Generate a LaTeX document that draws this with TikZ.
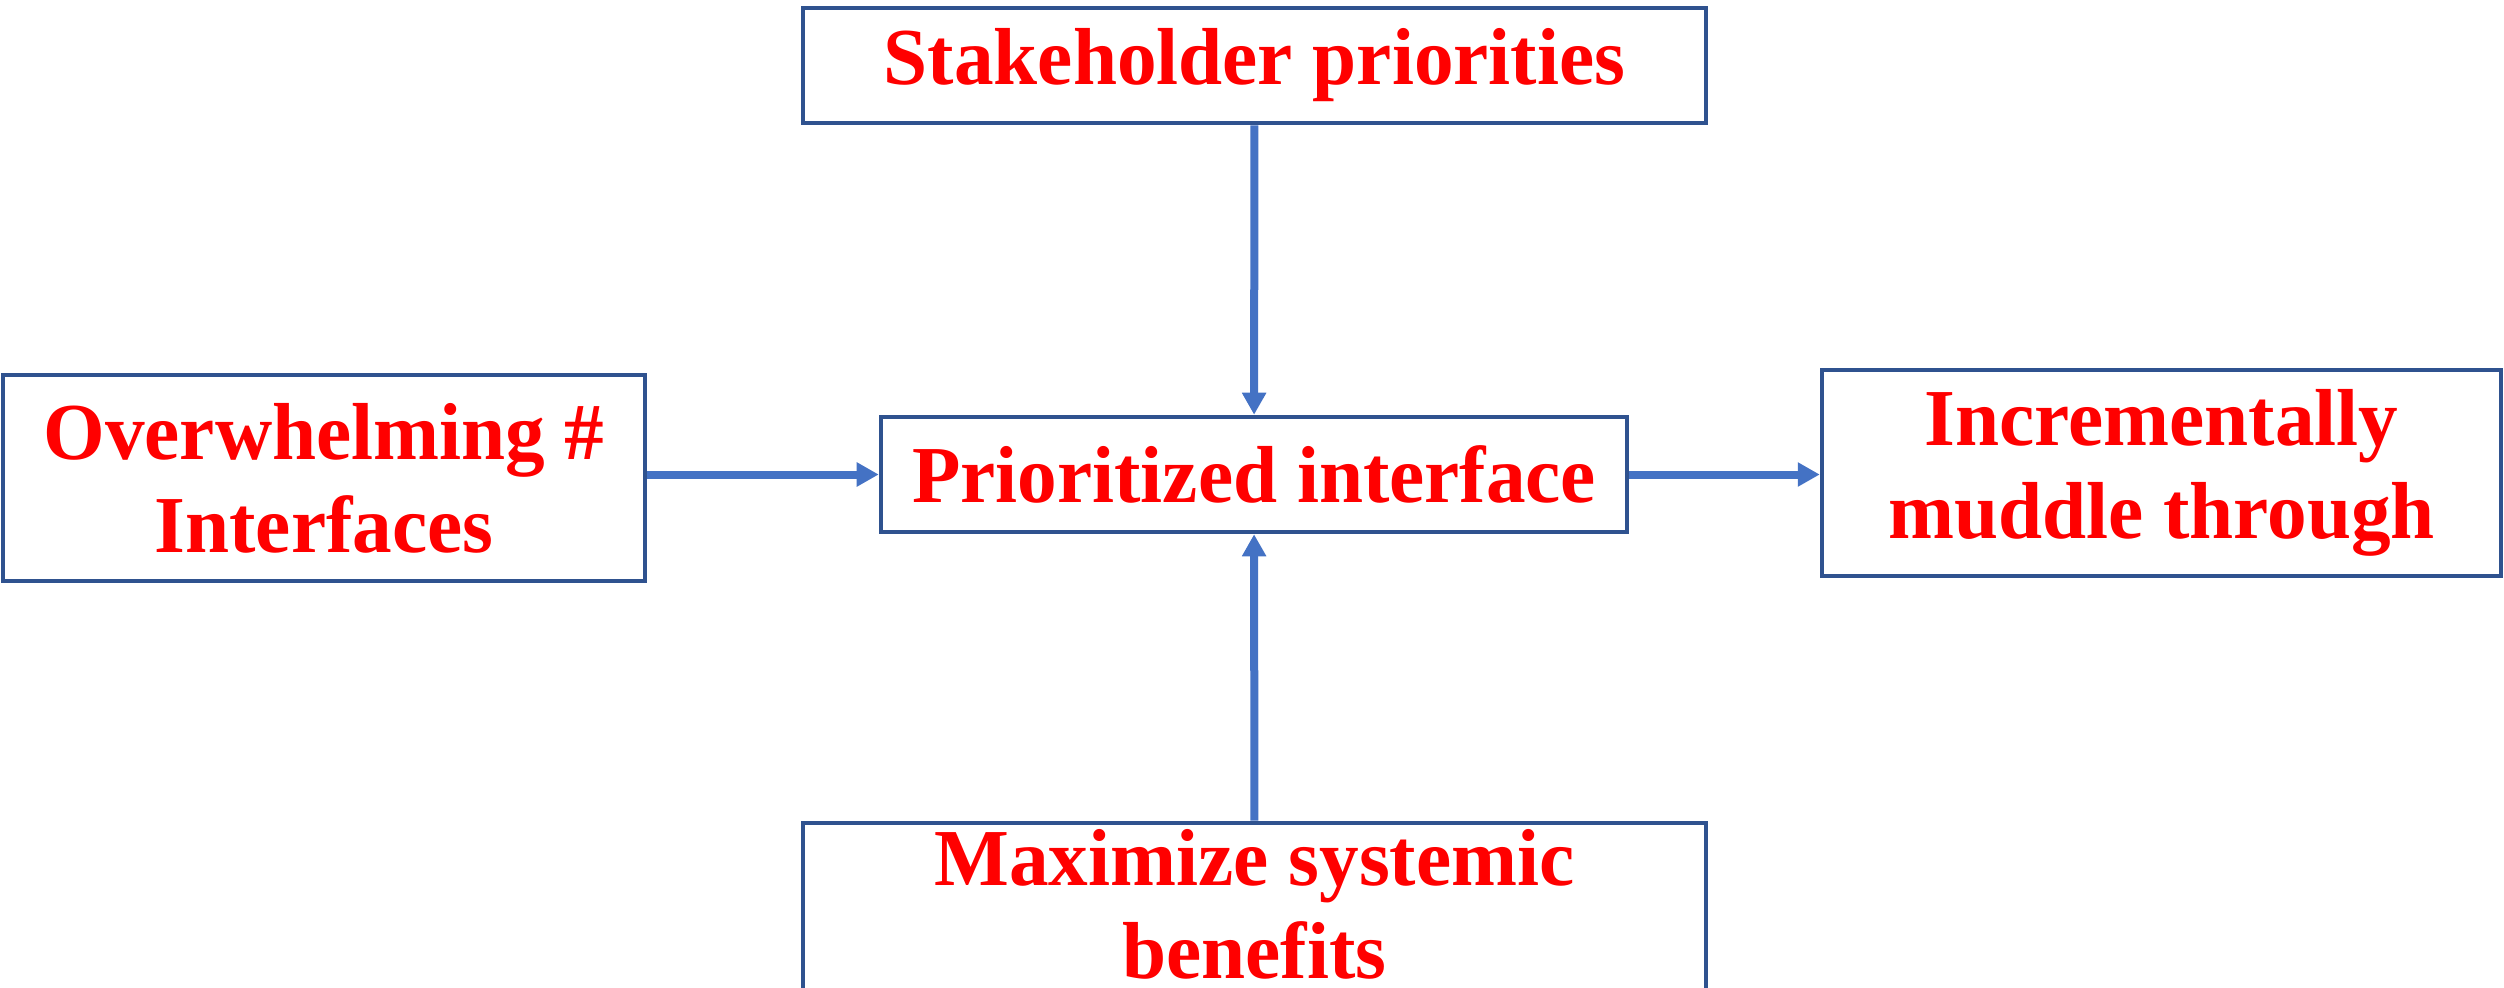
\documentclass[tikz,border=0pt]{standalone}
\usepackage{fontspec}
\setmainfont{Liberation Serif}[FakeStretch=0.98]
\usetikzlibrary{arrows.meta}
\definecolor{boxline}{HTML}{2F528F}
\definecolor{arrowblue}{HTML}{4472C4}
\definecolor{txtred}{HTML}{FF0000}
\tikzset{
  box/.style={draw=boxline, line width=1.3pt, fill=white, align=center,
    text=txtred, font=\fontsize{23}{26.5}\selectfont\bfseries, inner sep=0pt},
  flow/.style={draw=arrowblue, line width=0.08cm,
    -{Triangle[length=0.22cm,width=0.23cm]}}
}
\begin{document}
\begin{tikzpicture}
\useasboundingbox (0,0) rectangle (25.04,-9.87);
\begin{scope}
\clip (0,0) rectangle (25.04,-9.87);
\node[box, minimum width=9.03cm, minimum height=1.15cm] (sh) at (12.545,-0.655) {Stakeholder priorities};
\node[box, minimum width=6.42cm, minimum height=2.06cm] (ow) at (3.24,-4.78) {Overwhelming \#\\Interfaces};
\node[box, minimum width=7.46cm, minimum height=1.15cm] (pr) at (12.54,-4.745) {Prioritized interface};
\node[box, minimum width=6.79cm, minimum height=2.06cm] (inc) at (21.615,-4.73) {Incrementally\\muddle through};
\node[box, minimum width=9.03cm, minimum height=1.72cm, text depth=0.1cm] (mx) at (12.545,-9.09) {Maximize systemic\\benefits};
\draw[flow] (sh) -- (pr);
\draw[flow] (ow.east |- pr.west) -- (pr.west);
\draw[flow] (pr.east) -- (pr.east -| inc.west);
\draw[flow] (mx) -- (pr);
\end{scope}
\end{tikzpicture}
\end{document}
